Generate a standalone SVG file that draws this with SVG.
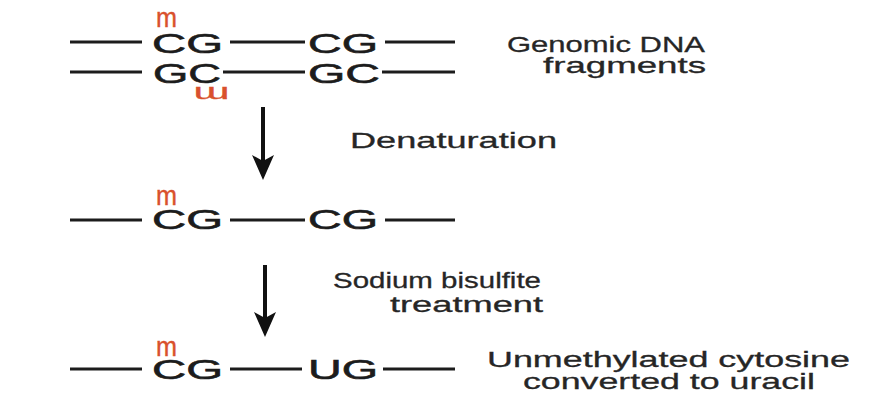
<svg xmlns="http://www.w3.org/2000/svg" width="870" height="409" viewBox="0 0 870 409">
<defs>
<style>
.b{font-family:"Liberation Sans",Arial,sans-serif;fill:#1c1c1c;font-size:28px;stroke:#1c1c1c;stroke-width:0.6}
.m{font-family:"Liberation Sans",Arial,sans-serif;fill:#d9512c;font-size:27px;stroke:#d9512c;stroke-width:0.4}
.t{font-family:"Liberation Sans",Arial,sans-serif;fill:#262626;font-size:22px;stroke:#262626;stroke-width:0.3}
.ln{stroke:#1c1c1c;stroke-width:3;fill:none}
.ar{fill:#111}
</style>
</defs>
<rect width="870" height="409" fill="#ffffff"/>
<g id="connectors">
<line class="ln" x1="70" y1="42" x2="142" y2="42"/>
<line class="ln" x1="230" y1="42" x2="305" y2="42"/>
<line class="ln" x1="385" y1="42" x2="455" y2="42"/>
<line class="ln" x1="70" y1="72" x2="142" y2="72"/>
<line class="ln" x1="223" y1="72" x2="305" y2="72"/>
<line class="ln" x1="382" y1="72" x2="455" y2="72"/>
<line class="ln" x1="70" y1="220" x2="142" y2="220"/>
<line class="ln" x1="230" y1="220" x2="305" y2="220"/>
<line class="ln" x1="385" y1="220" x2="455" y2="220"/>
<line class="ln" x1="70" y1="369" x2="142" y2="369"/>
<line class="ln" x1="230" y1="369" x2="302" y2="369"/>
<line class="ln" x1="383" y1="369" x2="455" y2="369"/>
<line x1="263" y1="107" x2="263" y2="162" stroke="#111" stroke-width="4"/>
<polygon class="ar" points="263,180 252,155 263,161 274,155"/>
<line x1="265" y1="265" x2="265" y2="319" stroke="#111" stroke-width="4"/>
<polygon class="ar" points="265,337 254,312 265,318 276,312"/>
</g>
<g id="genomic">
<text class="m" x="156" y="27" textLength="21" lengthAdjust="spacingAndGlyphs">m</text>
<text class="b" x="152" y="53" textLength="71" lengthAdjust="spacingAndGlyphs">CG</text>
<text class="b" x="308" y="53" textLength="70" lengthAdjust="spacingAndGlyphs">CG</text>
<text class="b" x="153" y="83" textLength="68" lengthAdjust="spacingAndGlyphs">GC</text>
<text class="b" x="308" y="83" textLength="72" lengthAdjust="spacingAndGlyphs">GC</text>
<text class="m" transform="translate(211.5,92.5) rotate(180) scale(1.6,0.8)" x="0" y="7" text-anchor="middle">m</text>
</g>
<g id="denatured">
<text class="m" x="156" y="205" textLength="21" lengthAdjust="spacingAndGlyphs">m</text>
<text class="b" x="152" y="229" textLength="71" lengthAdjust="spacingAndGlyphs">CG</text>
<text class="b" x="308" y="229" textLength="70" lengthAdjust="spacingAndGlyphs">CG</text>
</g>
<g id="converted">
<text class="m" x="156" y="356" textLength="21" lengthAdjust="spacingAndGlyphs">m</text>
<text class="b" x="152" y="379" textLength="71" lengthAdjust="spacingAndGlyphs">CG</text>
<text class="b" x="308" y="379" textLength="70" lengthAdjust="spacingAndGlyphs">UG</text>
</g>
<g id="labels">
<text class="t" x="507" y="52" textLength="198" lengthAdjust="spacingAndGlyphs">Genomic DNA</text>
<text class="t" x="543" y="73" textLength="163" lengthAdjust="spacingAndGlyphs">fragments</text>
<text class="t" x="350" y="148" textLength="207" lengthAdjust="spacingAndGlyphs">Denaturation</text>
<text class="t" x="333" y="288" textLength="208" lengthAdjust="spacingAndGlyphs">Sodium bisulfite</text>
<text class="t" x="390" y="312" textLength="153" lengthAdjust="spacingAndGlyphs">treatment</text>
<text class="t" x="487" y="367" textLength="363" lengthAdjust="spacingAndGlyphs">Unmethylated cytosine</text>
<text class="t" x="523" y="389" textLength="292" lengthAdjust="spacingAndGlyphs">converted to uracil</text>
</g>
</svg>
